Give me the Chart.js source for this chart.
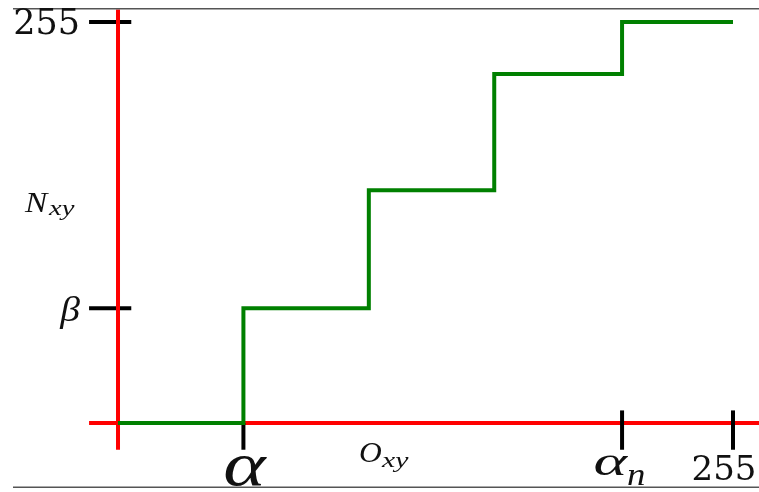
<!DOCTYPE html>
<html>
<head>
<meta charset="utf-8">
<script src="https://cdn.jsdelivr.net/npm/chart.js@4/dist/chart.umd.min.js"></script>
<style>
  html, body { margin: 0; padding: 0; background: #fff; }
  #wrap { width: 759px; height: 492px; position: relative; }
</style>
</head>
<body>
<div id="wrap"><canvas id="c" width="759" height="492"></canvas></div>
<script>
// Breakpoints of the input intensity O_xy and the output levels N_xy
const stepInputs = [0, 52, 104, 156, 209, 255];
const stepLevels = [0, 73, 148, 222, 255];
// Labelled ticks on each axis
const xTickValues = [52, 209, 255];
const xTickLabels = ['α', 'αn', '255'];
const yTickValues = [73, 255];
const yTickLabels = ['β', '255'];
// Axis extents
const xAxisRange = [-12, 266];
const yAxisRange = [-17, 263];

// Staircase: hold each level until the next breakpoint, then rise
const stairs = [];
for (let i = 0; i < stepLevels.length; i++) {
  stairs.push({ x: stepInputs[i], y: stepLevels[i] });
  stairs.push({ x: stepInputs[i + 1], y: stepLevels[i] });
}

const seg = (pts, color, width) => ({
  data: pts, borderColor: color, borderWidth: width, pointRadius: 0,
  showLine: true, fill: false, tension: 0, borderCapStyle: 'butt'
});

// Chart.js paints dataset 0 last, so list from top layer to bottom layer
const datasets = [];
datasets.push(seg(stairs, '#008000', 4));
// x tick marks: first hangs below the axis, others cross it
xTickValues.forEach((v, i) => {
  const top = i === 0 ? 0 : 8;
  datasets.push(seg([{ x: v, y: -17 }, { x: v, y: top }], '#000', 4));
});
datasets.push(seg([{ x: xAxisRange[0], y: 0 }, { x: xAxisRange[1], y: 0 }], '#ff0000', 4));
datasets.push(seg([{ x: 0, y: yAxisRange[0] }, { x: 0, y: yAxisRange[1] }], '#ff0000', 4));
// y tick marks straddle the vertical axis
yTickValues.forEach(v => datasets.push(seg([{ x: -12, y: v }, { x: 5.5, y: v }], '#000', 4)));

const SERIF = '"DejaVu Serif"';
const MATH = '"Liberation Serif"';

function text(ctx, str, x, y, font, align, sx) {
  ctx.save();
  ctx.font = font;
  ctx.textAlign = align;
  ctx.translate(x, y);
  ctx.scale(sx || 1, 1);
  ctx.fillText(str, 0, 0);
  ctx.restore();
}

const labelPlugin = {
  id: 'labels',
  afterDatasetsDraw(chart) {
    const { ctx, scales: { x, y } } = chart;
    ctx.save();
    ctx.textBaseline = 'alphabetic';

    // frame rules above and below the plot
    ctx.fillStyle = '#555';
    ctx.fillRect(13, 8, 746, 1.5);
    ctx.fillRect(13, 486.5, 746, 1.5);
    ctx.fillStyle = '#111';

    // y tick labels
    text(ctx, yTickLabels[1], 80, y.getPixelForValue(yTickValues[1]) + 12, '35px ' + SERIF, 'right');
    text(ctx, yTickLabels[0], 80, y.getPixelForValue(yTickValues[0]) + 13, 'italic 36px ' + MATH, 'right', 1.1);

    // x tick labels
    text(ctx, xTickLabels[0], x.getPixelForValue(xTickValues[0]) + 1, 485, 'italic 62px ' + MATH, 'center', 1.3);
    const ax = x.getPixelForValue(xTickValues[1]);
    text(ctx, xTickLabels[1][0], ax + 5, 475, 'italic 40px ' + MATH, 'right', 1.6);
    text(ctx, xTickLabels[1][1], ax + 5, 485, 'italic 32px ' + MATH, 'left', 1.15);
    text(ctx, xTickLabels[2], x.getPixelForValue(xTickValues[2]) - 9, 480, '34px ' + SERIF, 'center');

    // axis titles
    text(ctx, 'N', 25, 212, 'italic 29px ' + MATH, 'left', 1.15);
    text(ctx, 'xy', 49, 215, 'italic 22px ' + MATH, 'left', 1.3);
    text(ctx, 'O', 359, 462, 'italic 30px ' + MATH, 'left', 1.05);
    text(ctx, 'xy', 382, 467, 'italic 22px ' + MATH, 'left', 1.35);
    ctx.restore();
  }
};

new Chart(document.getElementById('c'), {
  type: 'scatter',
  data: { datasets },
  options: {
    responsive: false,
    animation: false,
    layout: { padding: 0 },
    plugins: { legend: { display: false }, tooltip: { enabled: false } },
    scales: {
      x: { type: 'linear', display: false, min: -48.93, max: 265.78 },
      y: { type: 'linear', display: false, min: -43.88, max: 268.99 }
    }
  },
  plugins: [labelPlugin]
});
</script>
</body>
</html>
